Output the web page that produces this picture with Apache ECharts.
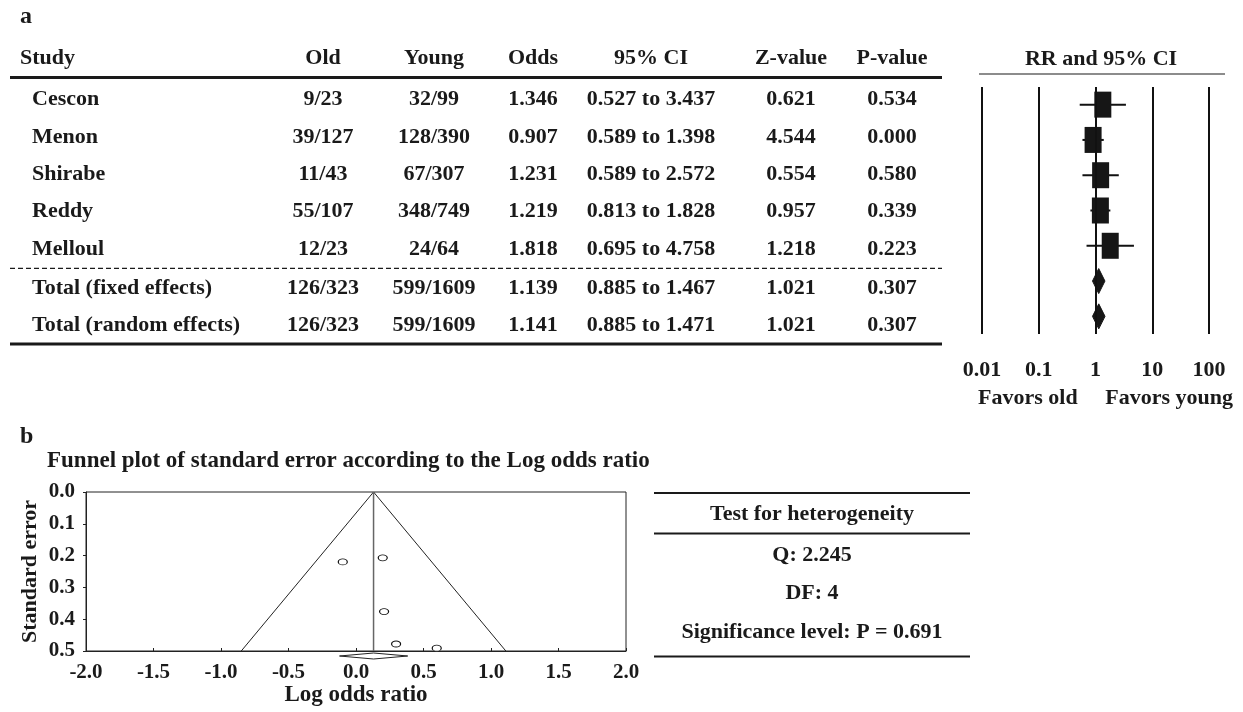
<!DOCTYPE html>
<html><head><meta charset="utf-8">
<script src="https://cdn.jsdelivr.net/npm/echarts@6/dist/echarts.min.js"></script>
<style>html,body{margin:0;padding:0;background:#fff}#c{width:1243px;height:712px}</style>
</head><body><div id="c"></div>
<script>
// ---------- data ----------
const headers = ['Study', 'Old', 'Young', 'Odds', '95% CI', 'Z-value', 'P-value'];
const studyNames = ['Cescon', 'Menon', 'Shirabe', 'Reddy', 'Melloul', 'Total (fixed effects)', 'Total (random effects)'];
const oldCounts = ['9/23', '39/127', '11/43', '55/107', '12/23', '126/323', '126/323'];
const youngCounts = ['32/99', '128/390', '67/307', '348/749', '24/64', '599/1609', '599/1609'];
const oddsRatios = [1.346, 0.907, 1.231, 1.219, 1.818, 1.139, 1.141];
const ciLow = [0.527, 0.589, 0.589, 0.813, 0.695, 0.885, 0.885];
const ciHigh = [3.437, 1.398, 2.572, 1.828, 4.758, 1.467, 1.471];
const zValues = ['0.621', '4.544', '0.554', '0.957', '1.218', '1.021', '1.021'];
const pValues = ['0.534', '0.000', '0.580', '0.339', '0.223', '0.307', '0.307'];
const forestTickValues = [0.01, 0.1, 1, 10, 100];
const forestTickLabels = ['0.01', '0.1', '1', '10', '100'];

const funnelLogOR = [-0.098, 0.198, 0.208, 0.297, 0.598];
const funnelSE = [0.220, 0.207, 0.376, 0.478, 0.491];
const funnelEdges = [[-0.85, 0.5], [0.13, 0.0], [1.11, 0.5]];
const pooledLogOR = 0.13;
const pooledLogCI = [-0.122, 0.383];

const hetTitle = 'Test for heterogeneity';
const hetLines = ['Q: 2.245', 'DF: 4', 'Significance level: P = 0.691'];

// ---------- layout ----------
const FONT = '"Liberation Serif", "Times New Roman", serif';
const TXT = '#1a1a1a';
const fs = 22;
const colX = [20, 323, 434, 533, 651, 791, 892];
const rowY = i => (i < 5 ? 99.5 + i * 37.4 : 288.3 + (i - 5) * 36.7);

function txt(text, x, y, align, size) {
  return { type: 'text', silent: true, style: { text: text, x: x, y: y, align: align || 'center', verticalAlign: 'middle',
    font: 'bold ' + (size || fs) + 'px ' + FONT, fill: TXT } };
}
function hline(x1, x2, y, w, dash) {
  return { type: 'line', silent: true, shape: { x1: x1, y1: y, x2: x2, y2: y },
    style: { stroke: '#1a1a1a', lineWidth: w, lineDash: dash || null } };
}

const graphics = [];
graphics.push(txt('a', 20, 17, 'left', 24));
headers.forEach((h, j) => graphics.push(txt(h, colX[j], 58, j === 0 ? 'left' : 'center')));
graphics.push(hline(10, 942, 77.5, 3));
studyNames.forEach((n, i) => {
  const y = rowY(i);
  const cells = [n, oldCounts[i], youngCounts[i], oddsRatios[i].toFixed(3),
    ciLow[i].toFixed(3) + ' to ' + ciHigh[i].toFixed(3), zValues[i], pValues[i]];
  cells.forEach((c, j) => graphics.push(txt(c, j === 0 ? 32 : colX[j], y, j === 0 ? 'left' : 'center')));
});
graphics.push(hline(10, 942, 268.3, 1.2, [5, 3]));
graphics.push(hline(10, 942, 344, 3));

graphics.push(txt('RR and 95% CI', 1101, 59, 'center'));
graphics.push(hline(979, 1225, 74, 1.2));

graphics.push(txt('b', 20, 437, 'left', 24));
graphics.push(txt('Funnel plot of standard error according to the Log odds ratio', 47, 461, 'left', 23));

graphics.push(hline(654, 970, 493, 2));
graphics.push(txt(hetTitle, 812, 514, 'center', 22));
graphics.push(hline(654, 970, 533.5, 2));
hetLines.forEach((t, k) => graphics.push(txt(t, 812, 555 + k * 38.5, 'center', 22)));
graphics.push(hline(654, 970, 656.5, 2));

const axisFont = { fontFamily: FONT, fontWeight: 'bold', color: TXT };

const option = {
  animation: false,
  backgroundColor: '#fff',
  graphic: graphics,
  grid: [
    { left: 982, right: 1243 - 1209, top: 87, bottom: 712 - 334, containLabel: false },
    { left: 86, right: 1243 - 626, top: 492, bottom: 712 - 651, containLabel: false,
      show: true, borderColor: '#222', borderWidth: 1 }
  ],
  xAxis: [
    { type: 'log', logBase: 10, gridIndex: 0, min: 0.01, max: 100,
      axisLine: { show: false }, axisTick: { show: false }, splitLine: { show: false },
      axisLabel: { ...axisFont, fontSize: 22, margin: 25, showMinLabel: true, showMaxLabel: true,
        formatter: v => forestTickLabels[Math.round(Math.log10(v)) + 2] },
      name: 'Favors old     Favors young', nameLocation: 'middle', nameGap: 53,
      nameTextStyle: { ...axisFont, fontSize: 22, padding: [0, 0, 0, 20] } },
    { type: 'value', gridIndex: 1, min: -2, max: 2, interval: 0.5,
      axisLine: { show: true, onZero: false, lineStyle: { color: '#222', width: 1 } },
      axisTick: { show: true, inside: true, length: 3, lineStyle: { color: '#222' } },
      splitLine: { show: false },
      axisLabel: { ...axisFont, fontSize: 21, margin: 11, formatter: v => v.toFixed(1) },
      name: 'Log odds ratio', nameLocation: 'middle', nameGap: 31,
      nameTextStyle: { ...axisFont, fontSize: 23 } }
  ],
  yAxis: [
    { type: 'category', gridIndex: 0, inverse: true, data: studyNames, show: false },
    { type: 'value', gridIndex: 1, inverse: true, min: 0, max: 0.5, interval: 0.1,
      axisLine: { show: true, onZero: false, lineStyle: { color: '#222', width: 1 } },
      axisTick: { show: true, length: 3, lineStyle: { color: '#222' } },
      splitLine: { show: false },
      axisLabel: { ...axisFont, fontSize: 21, margin: 11, formatter: v => v.toFixed(1) },
      name: 'Standard error', nameLocation: 'middle', nameRotate: 90, nameGap: 45,
      nameTextStyle: { ...axisFont, fontSize: 22 } }
  ],
  series: [
    { type: 'scatter', xAxisIndex: 0, yAxisIndex: 0, data: [], symbolSize: 0,
      markLine: { silent: true, symbol: 'none', label: { show: false },
        lineStyle: { color: '#111', width: 2, type: 'solid' },
        data: forestTickValues.map(v => ({ xAxis: v })) } },
    { type: 'custom', xAxisIndex: 0, yAxisIndex: 0, encode: { x: [0, 1], y: 2 },
      data: studyNames.slice(0, 5).map((n, i) => [ciLow[i], ciHigh[i], i]),
      renderItem: (params, api) => {
        const a = api.coord([api.value(0), api.value(2)]);
        const b = api.coord([api.value(1), api.value(2)]);
        return { type: 'line', shape: { x1: a[0], y1: a[1], x2: b[0], y2: b[1] },
          style: { stroke: '#111', lineWidth: 2 } };
      }, z: 3 },
    { type: 'scatter', xAxisIndex: 0, yAxisIndex: 0, symbol: 'rect', symbolSize: [17, 26],
      data: studyNames.slice(0, 5).map((n, i) => [oddsRatios[i], i]),
      itemStyle: { color: '#161616', opacity: 1 }, z: 4 },
    { type: 'custom', xAxisIndex: 0, yAxisIndex: 0, encode: { x: [0, 1, 2], y: 3 },
      data: [5, 6].map(i => [oddsRatios[i], ciLow[i], ciHigh[i], i]),
      renderItem: (params, api) => {
        const c = api.coord([api.value(0), api.value(3)]);
        const l = api.coord([api.value(1), api.value(3)]);
        const h = api.coord([api.value(2), api.value(3)]);
        const y = c[1];
        return { type: 'polygon', shape: { points: [[l[0], y], [c[0], y - 12.5], [h[0], y], [c[0], y + 12.5]] },
          style: { fill: '#161616', stroke: '#161616', lineWidth: 1 } };
      }, z: 4 },
    { type: 'line', xAxisIndex: 1, yAxisIndex: 1, data: funnelEdges, symbol: 'none',
      lineStyle: { color: '#222', width: 1 }, z: 2 },
    { type: 'line', xAxisIndex: 1, yAxisIndex: 1, data: [[pooledLogOR, 0], [pooledLogOR, 0.5]], symbol: 'none',
      lineStyle: { color: '#666', width: 1.5 }, z: 2 },
    { type: 'scatter', xAxisIndex: 1, yAxisIndex: 1, symbol: 'circle', symbolSize: [9, 6],
      data: funnelLogOR.map((x, i) => [x, funnelSE[i]]),
      itemStyle: { color: '#fff', borderColor: '#111', borderWidth: 1, opacity: 1 }, z: 5 },
    { type: 'custom', xAxisIndex: 1, yAxisIndex: 1, encode: { x: [0, 1, 2], y: 3 }, clip: false,
      data: [[pooledLogOR, pooledLogCI[0], pooledLogCI[1], 0.5]],
      renderItem: (params, api) => {
        const c = api.coord([api.value(0), api.value(3)]);
        const l = api.coord([api.value(1), api.value(3)]);
        const h = api.coord([api.value(2), api.value(3)]);
        const y = c[1] + 5;
        return { type: 'polygon', shape: { points: [[l[0], y], [c[0], y - 3], [h[0], y], [c[0], y + 3]] },
          style: { fill: '#fff', stroke: '#222', lineWidth: 1 } };
      }, z: 6 }
  ]
};
const chart = echarts.init(document.getElementById('c'));
chart.setOption(option);
</script></body></html>
